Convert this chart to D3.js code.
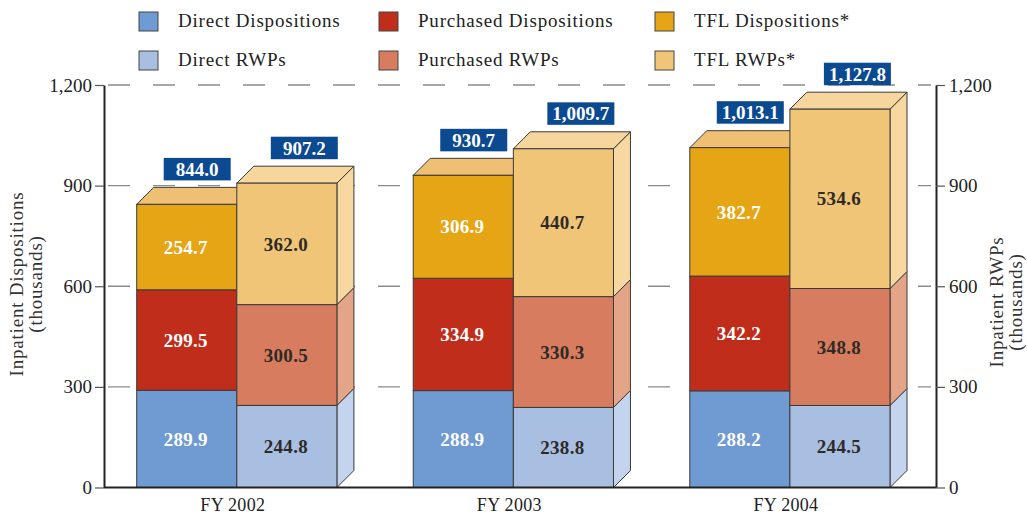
<!DOCTYPE html>
<html>
<head>
<meta charset="utf-8">
<script src="https://cdn.jsdelivr.net/npm/d3@7"></script>
<style>
  body { margin: 0; background: #fff; }
  svg { display: block; font-family: "Liberation Serif", "DejaVu Serif", serif; }
</style>
</head>
<body>
<svg id="chart" width="1027" height="517"></svg>
<script>
// values (thousands)
var years = ["FY 2002", "FY 2003", "FY 2004"];
var directDisp = [289.9, 288.9, 288.2];
var purchasedDisp = [299.5, 334.9, 342.2];
var tflDisp = [254.7, 306.9, 382.7];
var directRwp = [244.8, 238.8, 244.5];
var purchasedRwp = [300.5, 330.3, 348.8];
var tflRwp = [362.0, 440.7, 534.6];
var dispTotals = [844.0, 930.7, 1013.1];
var rwpTotals = [907.2, 1009.7, 1127.8];
var yTicks = [0, 300, 600, 900, 1200];

var legendItems = [
  {name: "Direct Dispositions", color: "#6f9bd2"},
  {name: "Purchased Dispositions", color: "#c02d1b"},
  {name: "TFL Dispositions*", color: "#e5a514"},
  {name: "Direct RWPs", color: "#a8bfe1"},
  {name: "Purchased RWPs", color: "#d77c5e"},
  {name: "TFL RWPs*", color: "#f1c577"}
];

var svg = d3.select("#chart");
var axisLeftX = 104, axisRightX = 936, depth = 17;

var x = d3.scaleBand().domain(years).range([136.7, 890]).paddingInner(0.276).paddingOuter(0);
var xSub = d3.scaleBand().domain(["disp", "rwp"]).range([0, x.bandwidth()]);
var y = d3.scaleLinear().domain([0, 1200]).range([487.5, 85]);

// dashed grid
svg.append("g").selectAll("line")
  .data(yTicks.filter(function(d) { return d > 0; }))
  .enter().append("line")
  .attr("x1", 108).attr("x2", 931)
  .attr("y1", function(d) { return y(d); }).attr("y2", function(d) { return y(d); })
  .attr("stroke", "#8a8a8a").attr("stroke-width", 1.3)
  .attr("stroke-dasharray", "22,23");

// build stacked data per year
var bars = years.map(function(yr, i) {
  return {
    year: yr, i: i,
    disp: [
      {v: directDisp[i], front: "#6f9bd2"},
      {v: purchasedDisp[i], front: "#c02d1b"},
      {v: tflDisp[i], front: "#e5a514", top: "#efc073"}
    ],
    rwp: [
      {v: directRwp[i], front: "#a8bfe1", side: "#c4d4ee"},
      {v: purchasedRwp[i], front: "#d77c5e", side: "#e4a487"},
      {v: tflRwp[i], front: "#f1c577", side: "#f6d8a0", top: "#f6d69d"}
    ],
    dispTotal: dispTotals[i], rwpTotal: rwpTotals[i]
  };
});

function stack(segs) {
  var acc = 0;
  segs.forEach(function(s) { s.y0 = acc; acc += s.v; s.y1 = acc; });
  return segs;
}

var stroke = "#3a3a3a";
var fmt = d3.format(".1f");
var fmtTot = d3.format(",.1f");

bars.forEach(function(b) {
  var g = svg.append("g");
  ["disp", "rwp"].forEach(function(kind) {
    var x0 = x(b.year) + xSub(kind), w = xSub.bandwidth(), x1 = x0 + w;
    var segs = stack(b[kind]);
    var top = segs[segs.length - 1];
    var kg = g.append("g");
    // side faces
    if (kind === "rwp") {
      kg.selectAll("path.side").data(segs).enter().append("path")
        .attr("class", "side")
        .attr("d", function(s) {
          return "M" + x1 + "," + y(s.y1) + "L" + (x1 + depth) + "," + (y(s.y1) - depth) +
            "L" + (x1 + depth) + "," + (y(s.y0) - depth) + "L" + x1 + "," + y(s.y0) + "Z";
        })
        .attr("fill", function(s) { return s.side; })
        .attr("stroke", stroke).attr("stroke-width", 1);
    }
    // top face
    kg.append("path")
      .attr("d", "M" + x0 + "," + y(top.y1) + "L" + (x0 + depth) + "," + (y(top.y1) - depth) +
        "L" + (x1 + depth) + "," + (y(top.y1) - depth) + "L" + x1 + "," + y(top.y1) + "Z")
      .attr("fill", top.top).attr("stroke", stroke).attr("stroke-width", 1);
    // front faces
    kg.selectAll("rect").data(segs).enter().append("rect")
      .attr("x", x0).attr("width", w)
      .attr("y", function(s) { return y(s.y1); })
      .attr("height", function(s) { return y(s.y0) - y(s.y1); })
      .attr("fill", function(s) { return s.front; })
      .attr("stroke", stroke).attr("stroke-width", 1);
    // segment labels
    kg.selectAll("text").data(segs).enter().append("text")
      .attr("x", x0 + w / 2 - 1)
      .attr("y", function(s) { return (y(s.y0) + y(s.y1)) / 2; })
      .attr("dy", "0.35em")
      .attr("text-anchor", "middle")
      .attr("font-size", 19).attr("font-weight", "bold").attr("letter-spacing", 0.3)
      .attr("fill", kind === "disp" ? "#ffffff" : "#2e2a26")
      .text(function(s) { return fmt(s.v); });
  });
});

// total boxes
bars.forEach(function(b) {
  [["disp", b.dispTotal, 27], ["rwp", b.rwpTotal, 34]].forEach(function(t) {
    var bx = x(b.year) + xSub(t[0]) + t[2];
    var by = y(t[1]) - depth - 7 - 22.5;
    svg.append("rect").attr("x", bx).attr("y", by).attr("width", 67).attr("height", 22.5)
      .attr("fill", "#0b4a91");
    svg.append("text").attr("x", bx + 33.5).attr("y", by + 11.5).attr("dy", "0.35em")
      .attr("text-anchor", "middle").attr("font-size", 19).attr("font-weight", "bold")
      .attr("fill", "#fff").text(fmtTot(t[1]));
  });
});

// axes
var leftAxis = d3.axisLeft(y).tickValues(yTicks).tickSize(9).tickSizeOuter(0).tickPadding(3)
  .tickFormat(d3.format(","));
var rightAxis = d3.axisRight(y).tickValues(yTicks).tickSize(9).tickSizeOuter(0).tickPadding(4)
  .tickFormat(d3.format(","));

function styleAxis(sel) {
  sel.select(".domain").attr("stroke", "#222").attr("stroke-width", 2);
  sel.selectAll(".tick line").attr("stroke", "#555").attr("stroke-width", 1.2);
  sel.selectAll(".tick text").attr("font-size", 19).attr("fill", "#222")
    .attr("font-family", "Liberation Serif, DejaVu Serif, serif");
}
svg.append("g").attr("transform", "translate(" + axisLeftX + ",0)").call(leftAxis).call(styleAxis);
svg.append("g").attr("transform", "translate(" + axisRightX + ",0)").call(rightAxis).call(styleAxis);

// baseline
svg.append("line").attr("x1", axisLeftX).attr("x2", axisRightX)
  .attr("y1", y(0)).attr("y2", y(0)).attr("stroke", "#222").attr("stroke-width", 2);

// category labels
svg.append("g").selectAll("text").data(years).enter().append("text")
  .attr("x", function(d) { return x(d) + x.bandwidth() / 2 - 4; })
  .attr("y", 511)
  .attr("text-anchor", "middle").attr("font-size", 18).attr("letter-spacing", 0.3).attr("fill", "#222")
  .text(function(d) { return d; });

// axis titles
function axisTitle(cx, cy, lines) {
  var t = svg.append("text").attr("transform", "translate(" + cx + "," + cy + ") rotate(-90)")
    .attr("text-anchor", "middle").attr("font-size", 19).attr("letter-spacing", 0.8).attr("fill", "#333");
  lines.forEach(function(l, k) {
    t.append("tspan").attr("x", 0).attr("dy", k === 0 ? 0 : "1em").text(l);
  });
}
axisTitle(23, 284, ["Inpatient Dispositions", "(thousands)"]);
axisTitle(1003, 302, ["Inpatient RWPs", "(thousands)"]);

// legend
var legCols = [139, 379, 655];
var leg = svg.append("g").selectAll("g").data(legendItems).enter().append("g")
  .attr("transform", function(d, i) {
    return "translate(" + legCols[i % 3] + "," + (i < 3 ? 12 : 51) + ")";
  });
leg.append("rect").attr("width", 19).attr("height", 19)
  .attr("fill", function(d) { return d.color; })
  .attr("stroke", "#444").attr("stroke-width", 1);
leg.append("text").attr("x", 39).attr("y", 15).attr("font-size", 19).attr("letter-spacing", 0.8)
  .attr("fill", "#222")
  .text(function(d) { return d.name; });
</script>
</body>
</html>
